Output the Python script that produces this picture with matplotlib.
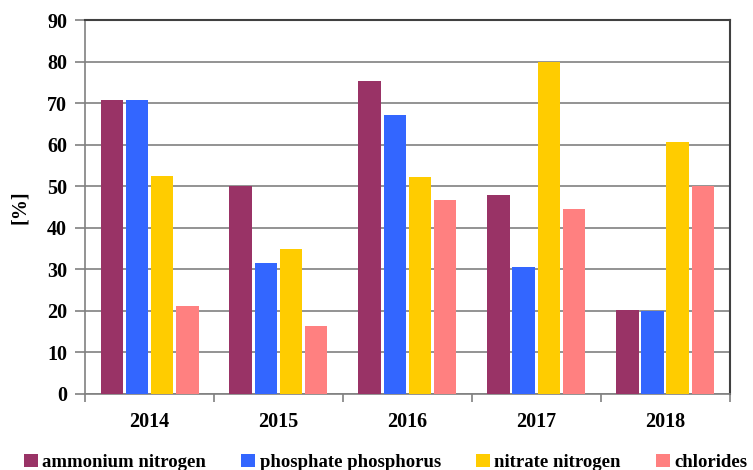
import numpy as np
import matplotlib.pyplot as plt

years = ['2014', '2015', '2016', '2017', '2018']
ammonium = [70.7, 50.0, 75.3, 48.0, 20.1]
phosphate = [70.7, 31.6, 67.1, 30.5, 20.0]
nitrate = [52.5, 34.8, 52.2, 80.0, 60.7]
chlorides = [21.2, 16.3, 46.8, 44.6, 50.0]

series = [
    ('ammonium nitrogen', ammonium, '#993366'),
    ('phosphate phosphorus', phosphate, '#3366FF'),
    ('nitrate nitrogen', nitrate, '#FFCC00'),
    ('chlorides', chlorides, '#FF8080'),
]

plt.rcParams['font.family'] = ['Liberation Serif', 'DejaVu Serif']
plt.rcParams['font.weight'] = 'bold'

fig = plt.figure(figsize=(7.53, 4.70), dpi=100)
ax = fig.add_axes([0.113, 0.162, 0.856, 0.795])

x = np.arange(len(years))
width = 0.175
step = 0.195
for i, (name, vals, col) in enumerate(series):
    ax.bar(x + (i - 1.5) * step, vals, width, color=col, label=name, zorder=3)

ax.set_xlim(-0.5, len(years) - 0.5)
ax.set_ylim(0, 90)
ax.set_yticks(range(0, 91, 10))
ax.yaxis.grid(True, color='#808080', linewidth=1.2, zorder=0)

# category boundaries get the tick marks, labels sit in the middle
ax.set_xticks(np.arange(-0.5, len(years), 1.0))
ax.set_xticklabels([])
ax.set_xticks(x, minor=True)
ax.set_xticklabels(years, minor=True, fontsize=14.5, fontweight='bold')
ax.tick_params(axis='x', which='major', length=6, color='#808080', width=1.2)
ax.tick_params(axis='x', which='minor', length=0, pad=13)
ax.tick_params(axis='y', length=7, color='#808080', width=1.2, labelsize=14.5, pad=6)

for s in ['left', 'bottom']:
    ax.spines[s].set_color('#808080')
    ax.spines[s].set_linewidth(1.2)
for s in ['top', 'right']:
    ax.spines[s].set_color('#404040')
    ax.spines[s].set_linewidth(1.5)

ax.set_ylabel('[%]', fontsize=14.5, fontweight='bold', labelpad=12)

fig.legend(loc='lower center', bbox_to_anchor=(0.512, -0.038), ncol=4, frameon=False,
           prop={'size': 13.5, 'weight': 'bold'}, handlelength=0.75, handleheight=0.75,
           handletextpad=0.25, columnspacing=1.85)

plt.savefig('out.png', dpi=100)
